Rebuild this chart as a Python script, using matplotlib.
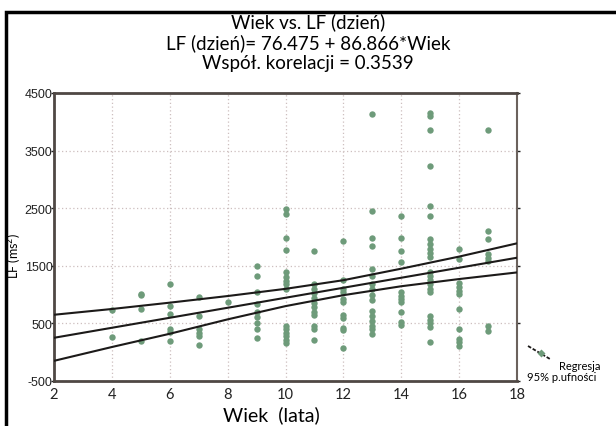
"""Wiek vs. LF (dzień) - scatter with regression line and 95% band."""

import matplotlib
matplotlib.use("Agg")
import matplotlib.pyplot as plt
from matplotlib.lines import Line2D
from matplotlib.patches import Rectangle
import numpy as np

# ---- data ----
ages = [4, 5, 6, 7, 8, 9, 10, 11, 12, 13, 14, 15, 16, 17]
lf_by_age = [
    [740, 270],
    [1010, 1000, 750, 195],
    [1180, 810, 660, 403, 350, 200],
    [950, 630, 400, 340, 280, 130],
    [880],
    [1500, 1330, 1050, 840, 700, 610, 510, 400, 250],
    [2480, 2400, 1980, 1770, 1400, 1300, 1240, 1180, 1100,
     460, 400, 340, 280, 220, 160],
    [1760, 1180, 1100, 1020, 940, 860, 780, 700, 640, 460, 400, 220],
    [1930, 1250, 1100, 1040, 920, 870, 650, 600, 420, 380, 75],
    [4130, 2450, 1980, 1850, 1450, 1330, 1180, 1100, 1000, 900,
     720, 630, 550, 450, 400, 320],
    [2370, 1980, 1760, 1570, 1050, 980, 920, 870, 700, 530, 470],
    [4150, 4100, 3850, 3240, 2540, 2370, 1960, 1880, 1800, 1730, 1660,
     1400, 1330, 1260, 1180, 1100, 1050, 620, 560, 500, 440, 180],
    [1790, 1610, 1200, 1130, 1060, 1010, 750, 400, 230, 170, 115],
    [3850, 2110, 1960, 1700, 1640, 1580, 460, 360],
]

# regression from the title
intercept = 76.475
slope = 86.866
corr = 0.3539

# 95% band read at these ages
band_x = [2, 4, 6, 8, 10, 12, 14, 16, 18]
band_upper = [650, 750, 860, 975, 1100, 1250, 1450, 1660, 1890]
band_lower = [-150, 90, 320, 570, 800, 990, 1145, 1270, 1385]

x_ticks = [2, 4, 6, 8, 10, 12, 14, 16, 18]
y_ticks = [-500, 500, 1500, 2500, 3500, 4500]

POINT_COLOR = "#6e9b7a"
LINE_COLOR = "#1c1a19"
SPINE_COLOR = "#4f4844"
GRID_COLOR = "#cdbfbf"

plt.rcParams["font.family"] = ["Lato", "DejaVu Sans"]

fig = plt.figure(figsize=(6.16, 4.27), dpi=100)
ax = fig.add_axes([54 / 616, 1 - 382 / 427, 463 / 616, 288 / 427])

# points
xs = np.concatenate([[a] * len(v) for a, v in zip(ages, lf_by_age)])
ys = np.concatenate(lf_by_age)
ax.plot(xs, ys, linestyle="none", marker="o", ms=4.6, mec="none",
        color=POINT_COLOR, zorder=3)

# regression and band
line_x = np.array([x_ticks[0], x_ticks[-1]], dtype=float)
ax.plot(line_x, intercept + slope * line_x, color=LINE_COLOR, lw=1.5, zorder=4)
ax.plot(band_x, band_upper, color=LINE_COLOR, lw=1.5, zorder=4)
ax.plot(band_x, band_lower, color=LINE_COLOR, lw=1.5, zorder=4)

ax.set_xlim(2, 18)
ax.set_ylim(-500, 4500)
ax.set_xticks(x_ticks)
ax.set_yticks(y_ticks)
ax.set_xticklabels([str(t) for t in x_ticks], fontsize=10.5)
ax.set_yticklabels([str(t) for t in y_ticks], fontsize=9,
                   family=["Liberation Sans Narrow", "Liberation Sans"])
ax.tick_params(axis="x", length=0, pad=4, colors="#222222")
ax.tick_params(axis="y", length=2, width=1, pad=-1, colors="#222222",
               direction="out")
ax.tick_params(axis="y", which="both", right=True, labelright=False)

ax.grid(True, linestyle=(0, (1, 2)), color=GRID_COLOR, lw=0.9)
for side in ("left", "bottom", "top"):
    ax.spines[side].set_color(SPINE_COLOR)
    ax.spines[side].set_linewidth(2)
ax.spines["right"].set_color("#6b625d")
ax.spines["right"].set_linewidth(1.5)

ax.set_xlabel("Wiek  (lata)", fontsize=14)
ax.xaxis.set_label_coords((271 - 54) / 463, -0.085)
ax.set_ylabel("LF (ms$^2$)", fontsize=9)
ax.yaxis.set_label_coords((24 - 54) / 463, 0.44)

# title block
title_kw = dict(ha="center", va="center", fontsize=13.5)
fig.text(0.5, 1 - 22 / 427, "Wiek vs. LF (dzień)", **title_kw)
fig.text(0.5, 1 - 43 / 427, f"LF (dzień)= {intercept} + {slope}*Wiek",
         **title_kw)
fig.text(0.5, 1 - 64 / 427, f"Współ. korelacji = {corr}", **title_kw)

# outer frame (only top and left visible in the crop)
fig.patches.append(Rectangle((6 / 616, -0.2), 1.5, 1.2 - 13 / 427,
                             transform=fig.transFigure, fill=False,
                             edgecolor="black", lw=2.5))

# legend
fig.lines.append(Line2D([528 / 616, 550 / 616], [1 - 347 / 427, 1 - 360 / 427],
                        transform=fig.transFigure, color=LINE_COLOR, lw=1.3,
                        linestyle=(0, (2, 1))))
fig.lines.append(Line2D([541 / 616], [1 - 354 / 427], transform=fig.transFigure,
                        marker="D", ms=4.5, mec="none", color=POINT_COLOR))
fig.text(559 / 616, 1 - 367 / 427, "Regresja", fontsize=8, va="center")
fig.text(527 / 616, 1 - 378 / 427, "95% p.ufności", fontsize=8, va="center")

fig.savefig("out.png", dpi=100)
